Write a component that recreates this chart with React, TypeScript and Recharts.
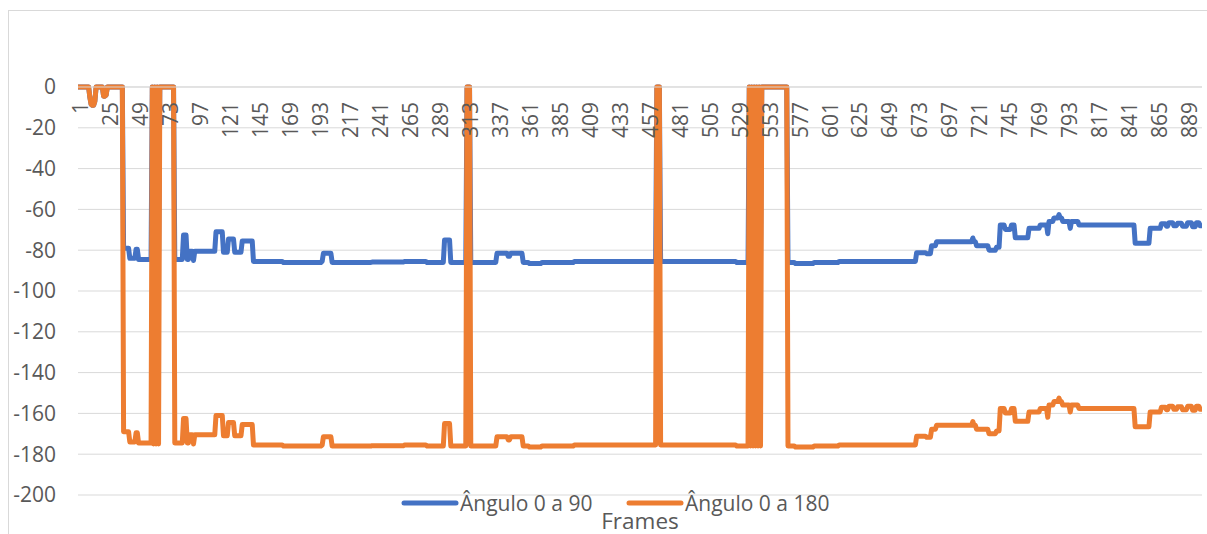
import React from "react";
import { LineChart, Line, XAxis, YAxis, CartesianGrid } from "recharts";

// frame numbers on the category axis
const frameCount = 900;
const frames = Array.from({ length: frameCount }, (_, i) => i + 1);
const frameTicks = [
  1, 25, 49, 73, 97, 121, 145, 169, 193, 217, 241, 265, 289, 313, 337, 361,
  385, 409, 433, 457, 481, 505, 529, 553, 577, 601, 625, 649, 673, 697, 721,
  745, 769, 793, 817, 841, 865, 889,
];
const angleTicks = [-200, -180, -160, -140, -120, -100, -80, -60, -40, -20, 0];

// values, as [first frame, value held from that frame on]
const angle90Runs: [number, number][] = [
  [1, 0], [10, -5], [11, -8.5], [12, -9], [14, -7], [15, 0], [21, -4.5], [23, -4], [24, 0],
  [37, -79], [42, -84], [47, -79.5], [49, -84.5],
  [60, 0], [61, -85], [62, 0], [63, -85], [64, 0], [65, -85], [66, 0],
  [78, -84.5], [85, -72.5], [88, -84.5], [90, -80.5], [93, -85], [94, -80.5],
  [111, -71], [117, -81], [121, -74.5], [126, -81], [132, -75.5], [141, -85.5],
  [165, -86], [196, -85.5], [197, -81.5], [204, -86], [236, -85.8], [262, -85.5], [280, -86],
  [294, -75], [299, -86], [312, 0], [315, -86],
  [336, -81.5], [345, -83], [347, -81.5], [357, -86], [362, -86.5], [372, -86], [398, -85.5],
  [464, 0], [467, -85.5], [528, -86],
  [538, 0], [539, -86], [540, 0], [541, -86], [542, 0], [543, -86], [544, 0], [545, -86],
  [546, 0], [547, -86], [548, 0],
  [569, -86], [575, -86.5], [590, -86], [610, -85.5],
  [672, -81.2], [680, -81.7], [684, -77.8], [688, -75.8], [717, -74], [718, -75.8],
  [720, -77.8], [730, -80], [736, -78.6], [739, -67.6], [743, -69.8], [748, -67.6],
  [751, -73.9], [762, -69.3], [771, -67.6], [777, -71.9], [778, -65.9], [782, -64.2],
  [786, -62.5], [787, -64.2], [789, -65.9], [795, -69.3], [796, -65.9], [802, -67.6],
  [847, -76.6], [859, -69.3], [868, -67], [872, -68.2], [874, -66.5], [878, -68],
  [881, -66.8], [885, -68.2], [889, -66.5], [893, -68.5], [896, -66.5], [899, -68],
];

const angle180Runs: [number, number][] = [
  [1, 0], [10, -5], [11, -8.5], [12, -9], [14, -7], [15, 0], [21, -4.5], [23, -4], [24, 0],
  [37, -169], [42, -174], [47, -169.5], [49, -174.5],
  [60, 0], [61, -175], [62, 0], [63, -175], [64, 0], [65, -175], [66, 0],
  [78, -174.5], [85, -162.5], [88, -174.5], [90, -170.5], [93, -175], [94, -170.5],
  [111, -161], [117, -171], [121, -164.5], [126, -171], [132, -165.5], [141, -175.5],
  [165, -176], [196, -175.5], [197, -171.5], [204, -176], [236, -175.8], [262, -175.5], [280, -176],
  [294, -165], [299, -176], [312, 0], [315, -176],
  [336, -171.5], [345, -173], [347, -171.5], [357, -176], [362, -176.5], [372, -176], [398, -175.5],
  [464, 0], [467, -175.5], [528, -176],
  [538, 0], [539, -176], [540, 0], [541, -176], [542, 0], [543, -176], [544, 0], [545, -176],
  [546, 0], [547, -176], [548, 0],
  [569, -176], [575, -176.5], [590, -176], [610, -175.5],
  [672, -171.2], [680, -171.7], [684, -167.8], [688, -165.8], [717, -164], [718, -165.8],
  [720, -167.8], [730, -170], [736, -168.6], [739, -157.6], [743, -159.8], [748, -157.6],
  [751, -163.9], [762, -159.3], [771, -157.6], [777, -161.9], [778, -155.9], [782, -154.2],
  [786, -152.5], [787, -154.2], [789, -155.9], [795, -159.3], [796, -155.9], [802, -157.6],
  [847, -166.6], [859, -159.3], [868, -157], [872, -158.2], [874, -156.5], [878, -158],
  [881, -156.8], [885, -158.2], [889, -156.5], [893, -158.5], [896, -156.5], [899, -158],
];

const seriesNames = ["Ângulo 0 a 90", "Ângulo 0 a 180"];
const seriesColors = ["#4472C4", "#ED7D31"];

const FONT = "'Open Sans', sans-serif";
const TEXT = "#595959";
const GRID = "#d9d9d9";
const LINE_W = 5;

function holdRuns(runs: [number, number][]) {
  let r = 0;
  return frames.map((f) => {
    while (r + 1 < runs.length && runs[r + 1][0] <= f) r++;
    return runs[r][1];
  });
}

const a90 = holdRuns(angle90Runs);
const a180 = holdRuns(angle180Runs);
const data = frames.map((f, i) => ({ frame: f, a90: a90[i], a180: a180[i] }));

function FrameTick(props: any) {
  const { x, y, payload } = props;
  return (
    <g transform={`translate(${x + 2},${y + 15}) rotate(-90)`}>
      <text textAnchor="end" dy="0.36em" fill={TEXT} fontSize={21} fontFamily={FONT}>
        {payload.value}
      </text>
    </g>
  );
}

export default function App() {
  return (
    <div
      style={{
        position: "fixed",
        left: 0,
        top: 0,
        width: 1207,
        height: 534,
        overflow: "hidden",
        background: "#fff",
      }}
    >
      <div
        style={{
          position: "absolute",
          left: 8,
          top: 10,
          width: 1300,
          height: 600,
          borderLeft: `1px solid ${GRID}`,
          borderTop: `1px solid ${GRID}`,
        }}
      />
      <div style={{ position: "absolute", left: 0, top: 0 }}>
        <LineChart
          width={1207}
          height={534}
          data={data}
          margin={{ top: 86, right: 5, bottom: 39, left: 0 }}
        >
          <CartesianGrid vertical={false} stroke={GRID} />
          <XAxis
            dataKey="frame"
            type="number"
            domain={[0.5, 900.5]}
            ticks={frameTicks}
            interval={0}
            orientation="top"
            height={1}
            tickSize={0}
            tickMargin={0}
            tickLine={false}
            axisLine={{ stroke: GRID }}
            tick={(p: any) => <FrameTick {...p} />}
            allowDataOverflow
          />
          <YAxis
            domain={[-200, 0]}
            ticks={angleTicks}
            width={78}
            axisLine={false}
            tickLine={false}
            tickSize={0}
            tickMargin={22}
            tick={{ fill: TEXT, fontSize: 21, fontFamily: FONT }}
          />
          <Line
            dataKey="a90"
            name={seriesNames[0]}
            type="linear"
            stroke={seriesColors[0]}
            strokeWidth={LINE_W}
            strokeLinejoin="round"
            strokeLinecap="round"
            dot={false}
            isAnimationActive={false}
          />
          <Line
            dataKey="a180"
            name={seriesNames[1]}
            type="linear"
            stroke={seriesColors[1]}
            strokeWidth={LINE_W}
            strokeLinejoin="round"
            strokeLinecap="round"
            dot={false}
            isAnimationActive={false}
          />
        </LineChart>
      </div>
      {/* legend and axis title, Excel style under the plot */}
      <svg
        width={1207}
        height={534}
        style={{ position: "absolute", left: 0, top: 0, pointerEvents: "none" }}
      >
        {[0, 1].map((i) => {
          const x0 = i === 0 ? 404 : 629;
          return (
            <g key={i}>
              <line
                x1={x0}
                x2={x0 + 52}
                y1={503}
                y2={503}
                stroke={seriesColors[i]}
                strokeWidth={LINE_W}
                strokeLinecap="round"
              />
              <text x={x0 + 56} y={510.5} fill={TEXT} fontSize={21} fontFamily={FONT}>
                {seriesNames[i]}
              </text>
            </g>
          );
        })}
        <text x={640} y={529} textAnchor="middle" fill={TEXT} fontSize={22.5} fontFamily={FONT}>
          Frames
        </text>
      </svg>
    </div>
  );
}
